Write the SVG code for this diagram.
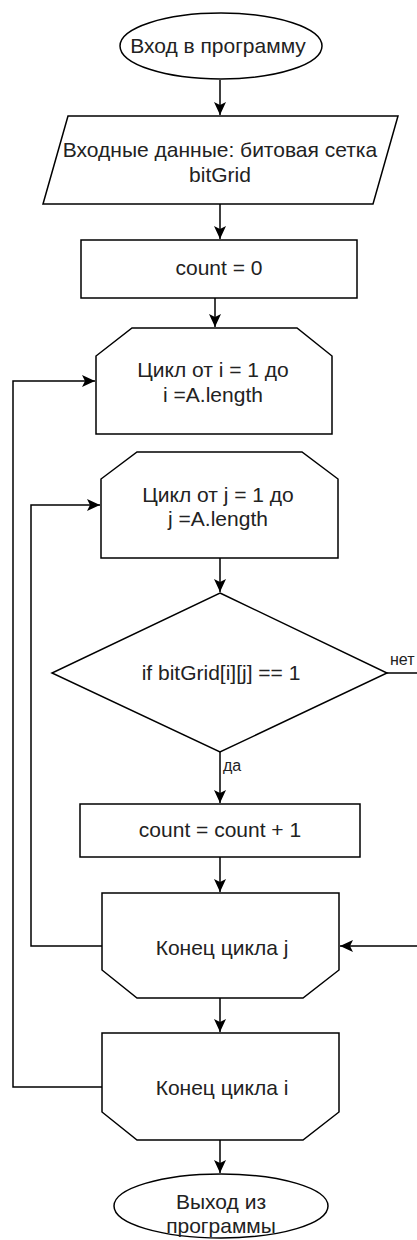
<svg xmlns="http://www.w3.org/2000/svg" width="417" height="1240" viewBox="0 0 417 1240">
<style>
.s{fill:#fff;stroke:#000;stroke-width:1.5}
.t{font-family:"Liberation Sans",Arial,sans-serif;font-size:21px;fill:#222;text-anchor:middle}
.l{font-family:"Liberation Sans",Arial,sans-serif;font-size:16px;fill:#222}
.c{fill:none;stroke:#000;stroke-width:1.5}
</style>
<defs>
<marker id="a" viewBox="-14 -7 15 14" refX="0" refY="0" markerWidth="15" markerHeight="14" markerUnits="userSpaceOnUse" orient="auto">
<path d="M0,0 L-13,-6 L-10,0 L-13,6 Z" fill="#000"/>
</marker>
</defs>
<rect width="417" height="1240" fill="#fff"/>
<g id="connectors">
<path class="c" d="M220,80 V115" marker-end="url(#a)"/>
<path class="c" d="M220,204 V239" marker-end="url(#a)"/>
<path class="c" d="M215,298 V327" marker-end="url(#a)"/>
<path class="c" d="M220,558 V592" marker-end="url(#a)"/>
<path class="c" d="M220,752 V803" marker-end="url(#a)"/>
<path class="c" d="M387,673 H425 V946 H340" marker-end="url(#a)"/>
<path class="c" d="M220,857 V892" marker-end="url(#a)"/>
<path class="c" d="M102,946 H31 V505 H100" marker-end="url(#a)"/>
<path class="c" d="M220,998 V1032" marker-end="url(#a)"/>
<path class="c" d="M102,1087 H13 V381 H95" marker-end="url(#a)"/>
<path class="c" d="M220,1140 V1173" marker-end="url(#a)"/>
<text class="l" x="223" y="771">да</text>
<text class="l" x="390" y="665">нет</text>
</g>
<g id="start">
<ellipse class="s" cx="221" cy="46" rx="101" ry="33"/>
<text class="t" x="218" y="53">Вход в программу</text>
</g>
<g id="input">
<polygon class="s" points="68,116 398,116 373,204 43,204"/>
<text class="t" x="220" y="157">Входные данные: битовая сетка</text>
<text class="t" x="220" y="182">bitGrid</text>
</g>
<g id="init">
<rect class="s" x="81" y="240" width="276" height="58"/>
<text class="t" x="219" y="275">count = 0</text>
</g>
<g id="loop-i">
<polygon class="s" points="132,328 297,328 332,356 332,434 96,434 96,356"/>
<text class="t" x="213" y="377">Цикл от i = 1 до</text>
<text class="t" x="213" y="402">i =A.length</text>
</g>
<g id="loop-j">
<polygon class="s" points="137,452 302,452 338,479 338,558 101,558 101,479"/>
<text class="t" x="218" y="502">Цикл от j = 1 до</text>
<text class="t" x="218" y="526">j =A.length</text>
</g>
<g id="cond">
<polygon class="s" points="220,593 387,673 220,752 52,673"/>
<text class="t" x="221" y="680">if bitGrid[i][j] == 1</text>
</g>
<g id="inc">
<rect class="s" x="80" y="804" width="280" height="53"/>
<text class="t" x="220" y="837">count = count + 1</text>
</g>
<g id="end-j">
<polygon class="s" points="102,893 339,893 339,970 303,998 137,998 102,970"/>
<text class="t" x="222" y="955">Конец цикла j</text>
</g>
<g id="end-i">
<polygon class="s" points="102,1033 339,1033 339,1112 303,1140 137,1140 102,1112"/>
<text class="t" x="222" y="1095">Конец цикла i</text>
</g>
<g id="exit">
<ellipse class="s" cx="221" cy="1206" rx="107" ry="32"/>
<text class="t" x="221" y="1209">Выход из</text>
<text class="t" x="221" y="1233">программы</text>
</g>
</svg>
